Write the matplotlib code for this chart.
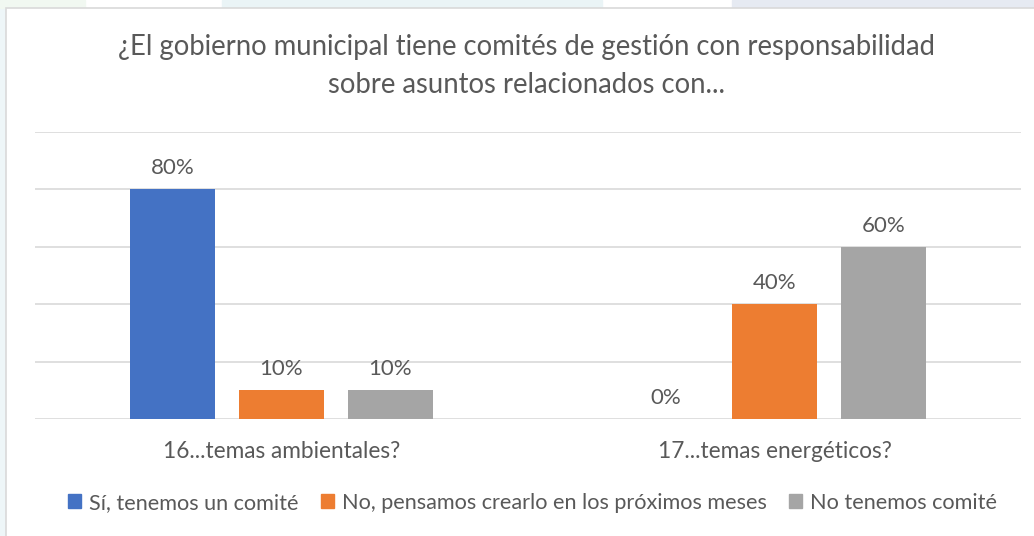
import matplotlib.pyplot as plt
from matplotlib.patches import Rectangle, Patch
import numpy as np

plt.rcParams['font.family'] = ['Lato', 'DejaVu Sans']

categories = ['16...temas ambientales?', '17...temas energéticos?']
series = ['Sí, tenemos un comité', 'No, pensamos crearlo en los próximos meses', 'No tenemos comité']
values = [
    [80, 0],   # Sí
    [10, 40],  # No, pensamos crearlo
    [10, 60],  # No tenemos comité
]
colors = ['#4472C4', '#ED7D31', '#A5A5A5']
text_color = '#595959'

W, H = 1034, 536
fig = plt.figure(figsize=(W / 100, H / 100), dpi=100)

# background strips around the chart frame
bg = fig.add_axes([0, 0, 1, 1], zorder=-5)
bg.set_xlim(0, W)
bg.set_ylim(H, 0)
bg.axis('off')
bg.add_patch(Rectangle((0, 0), 6, H, color='#EEF6F8'))
bg.add_patch(Rectangle((0, 0), 85, 8, color='#F1F8F1'))
bg.add_patch(Rectangle((222, 0), 380, 8, color='#EAF4F6'))
bg.add_patch(Rectangle((732, 0), 302, 8, color='#E6EAF2'))
bg.add_patch(Rectangle((6, 8), W, H, facecolor='white', edgecolor='#D9D9D9', lw=1.2))

# plot area: x 35..1021, y 132..419 (pixels)
ax = fig.add_axes([35 / W, 1 - 419 / H, 986 / W, 287 / H])
ax.set_xlim(-0.5, 1.5)
ax.set_ylim(0, 100)

x = np.arange(len(categories))
step = 0.221
width = 0.172
for i, (name, vals, c) in enumerate(zip(series, values, colors)):
    pos = x + (i - 1) * step
    ax.bar(pos, vals, width=width, color=c, zorder=3)
    for p, v in zip(pos, vals):
        ax.text(p, v + 3.8, f'{v}%', ha='center', va='bottom', fontsize=16, color=text_color)

ax.set_yticks(np.arange(0, 101, 20))
ax.yaxis.grid(True, color='#D9D9D9', lw=1.2, zorder=0)
ax.tick_params(left=False, labelleft=False, bottom=False)
ax.set_xticks(x)
ax.set_xticklabels(categories, fontsize=16.3, color=text_color)
ax.tick_params(axis='x', pad=12)
for s in ax.spines.values():
    s.set_visible(False)

fig.text(527 / W, 1 - 47 / H, '¿El gobierno municipal tiene comités de gestión con responsabilidad',
         ha='center', va='center', fontsize=19.8, color=text_color)
fig.text(527 / W, 1 - 85 / H, 'sobre asuntos relacionados con...',
         ha='center', va='center', fontsize=19.8, color=text_color)

handles = [Patch(color=c) for c in colors]
fig.legend(handles, series, loc='center', bbox_to_anchor=(0.515, 1 - 503 / H), ncol=3,
           frameon=False, fontsize=15.6, labelcolor=text_color, handlelength=0.6,
           handleheight=0.6, handletextpad=0.35, columnspacing=1.05)

fig.savefig('out.png', dpi=100)
